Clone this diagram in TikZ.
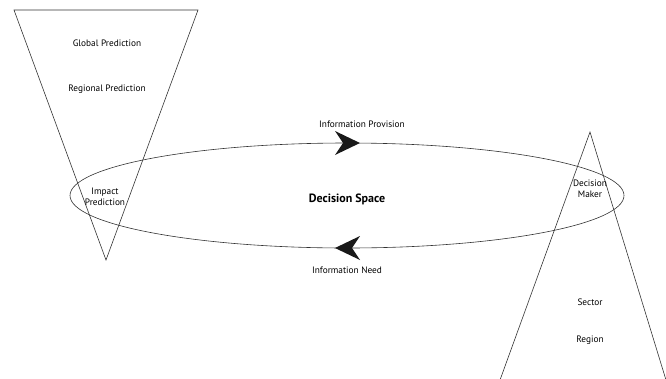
\documentclass[tikz,border=0pt]{standalone}
\usepackage{fontspec}
\setmainfont{PT Sans}
\begin{document}
\begin{tikzpicture}[x=1pt,y=-1pt,
  line/.style={draw=black!80,line width=0.6pt},
  lbl/.style={font=\fontsize{9.3}{11}\selectfont,align=center,inner sep=0pt},
  head/.style={fill=black!90,draw=none}]
\useasboundingbox (0,0) rectangle (666,378);
\begin{scope}
\clip (0,0) rectangle (666,378);
% left triangle
\draw[line] (14,10) -- (198,10) -- (106,260) -- cycle;
% right triangle
\draw[line] (500,380) -- (590,132) -- (666,380);
% ellipse
\draw[line] (347,195.5) ellipse [x radius=277, y radius=52.5];
\end{scope}
% arrowheads
\fill[head] (360,143) -- (335,131) -- (343,143) -- (335,155) -- cycle;
\fill[head] (335,248) -- (360,236) -- (352,248) -- (360,260) -- cycle;
% labels
\node[lbl] (gp) at (107,43) {Global Prediction};
\node[lbl] (rp) at (107,89) {Regional Prediction};
\node[lbl] (ip) at (105,196.5) {Impact\\Prediction};
\node[lbl] (prov) at (362,124) {Information Provision};
\node[lbl,font=\fontsize{12}{14}\selectfont\bfseries] (ds) at (347,199) {Decision Space};
\node[lbl] (need) at (347,270) {Information Need};
\node[lbl] (dm) at (590,189) {Decision\\Maker};
\node[lbl] (sec) at (590,302) {Sector};
\node[lbl] (reg) at (590,340) {Region};
\end{tikzpicture}
\end{document}
